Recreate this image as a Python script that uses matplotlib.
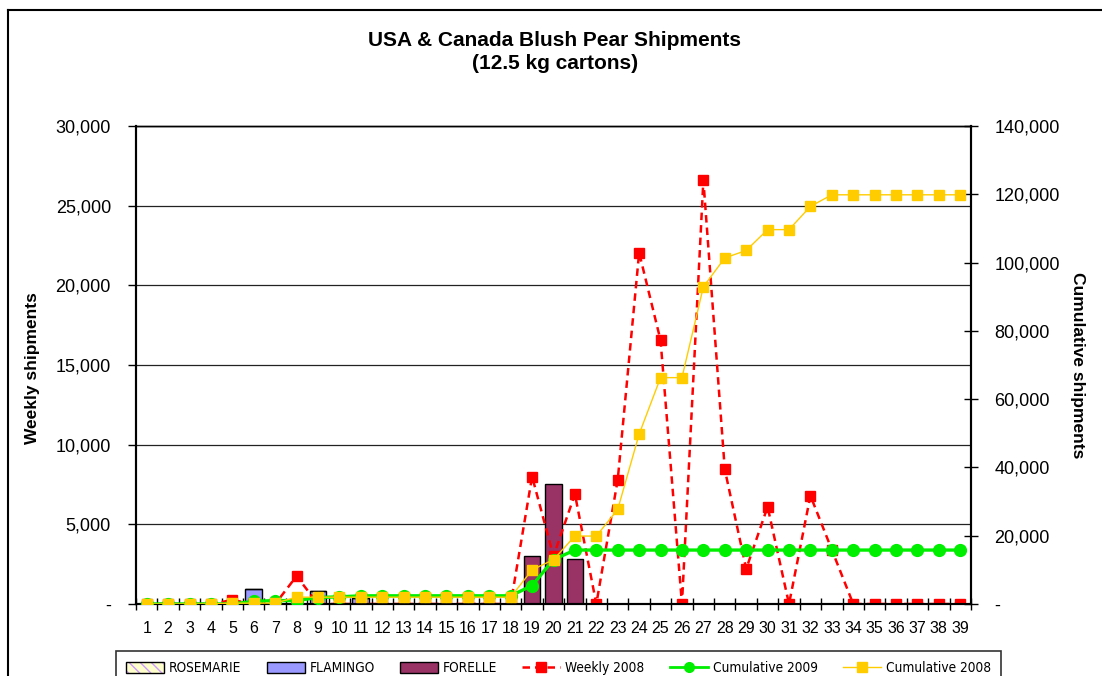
import matplotlib
matplotlib.use("Agg")
import matplotlib.pyplot as plt
from matplotlib.ticker import FuncFormatter, FixedLocator
from matplotlib.patches import Rectangle
from matplotlib.lines import Line2D
from matplotlib import font_manager
import numpy as np

plt.rcParams['font.family'] = ['Liberation Sans', 'DejaVu Sans']

weeks = list(range(1, 40))
week_labels = [str(w) for w in weeks]

rosemarie = [0] * 39
flamingo = [0, 0, 0, 0, 0, 950, 0, 0, 800, 0, 400, 0, 0, 0, 0, 0, 0, 0, 0, 0,
            0, 0, 0, 0, 0, 0, 0, 0, 0, 0, 0, 0, 0, 0, 0, 0, 0, 0, 0]
forelle = [0, 0, 0, 0, 0, 0, 0, 0, 0, 0, 0, 0, 0, 0, 0, 0, 0, 0, 3000, 7550,
           2820, 0, 0, 0, 0, 0, 0, 0, 0, 0, 0, 0, 0, 0, 0, 0, 0, 0, 0]
weekly_2008 = [0, 0, 0, 0, 250, 0, 0, 1750, 0, 0, 0, 0, 0, 0, 0, 0, 0, 0, 8000, 3000,
               6900, 0, 7800, 22050, 16550, 0, 26600, 8450, 2200, 6100, 0, 6800, 3400,
               0, 0, 0, 0, 0, 0]
cumulative_2009 = [0, 0, 0, 0, 0, 800, 1000, 1000, 1900, 2100, 2400, 2400, 2400, 2400,
                   2400, 2400, 2400, 2400, 5400, 13000, 15800, 15800, 15800, 15800,
                   15800, 15800, 15800, 15800, 15800, 15800, 15800, 15800, 15800, 15800,
                   15800, 15800, 15800, 15800, 15800]
cumulative_2008 = [0, 0, 0, 0, 250, 250, 250, 2000, 2000, 2000, 2000, 2000, 2000, 2000,
                   2000, 2000, 2000, 2000, 10000, 13000, 19900, 19900, 27700, 49750,
                   66300, 66300, 92900, 101350, 103550, 109650, 109650, 116450, 119850,
                   119850, 119850, 119850, 119850, 119850, 119850]

W, H = 1102, 676
fig = plt.figure(figsize=(W / 100, H / 100), dpi=100)
ax = fig.add_axes([136 / W, 1 - 604 / H, (971 - 136) / W, (604 - 126) / H])
ax2 = ax.twinx()

x = np.array(weeks)
bw = 0.78
ax.bar(x, rosemarie, width=bw, color='#FFFFCC', edgecolor='#CC99FF', hatch='\\\\\\', linewidth=0, zorder=2)
ax.bar(x, flamingo, width=bw, color='#9999FF', edgecolor='black', linewidth=1, zorder=2)
ax.bar(x, forelle, width=bw, bottom=np.array(flamingo), color='#993366', edgecolor='black', linewidth=1, zorder=2)
ax.plot(x, weekly_2008, color='#FF0000', linestyle=(0, (3, 2)), linewidth=1.8,
        marker='s', markersize=7, markerfacecolor='#FF0000', markeredgecolor='#FF0000', zorder=3)

ax2.plot(x, cumulative_2009, color='#00EE00', linewidth=2.4, marker='o', markersize=8.5,
         markerfacecolor='#00EE00', markeredgecolor='#00EE00', zorder=3)
ax2.plot(x, cumulative_2008, color='#FFCC00', linewidth=1, marker='s', markersize=7,
         markerfacecolor='#FFCC00', markeredgecolor='#FFCC00', zorder=4)

ax.set_xlim(0.5, 39.5)
ax.set_ylim(0, 30000)
ax2.set_ylim(0, 140000)
ax.set_yticks(np.arange(0, 30001, 5000))
ax2.set_yticks(np.arange(0, 140001, 20000))

fmt = FuncFormatter(lambda v, p: '-' if v == 0 else f'{v:,.0f}')
ax.yaxis.set_major_formatter(fmt)
ax2.yaxis.set_major_formatter(fmt)

ax.yaxis.grid(True, color='#222222', linewidth=0.9)
ax.set_axisbelow(True)

ax.set_xticks(x)
ax.set_xticklabels(week_labels)
ax.xaxis.set_minor_locator(FixedLocator(np.arange(0.5, 40, 1)))
ax.tick_params(axis='x', which='major', length=0, pad=12, labelsize=11.5)
ax.tick_params(axis='x', which='minor', length=8, direction='inout', width=1)
ax.tick_params(axis='y', which='major', length=6, direction='out', width=1, pad=12, labelsize=13)
ax2.tick_params(axis='y', which='major', length=10, direction='inout', width=1, pad=12, labelsize=13)

for a in (ax, ax2):
    for s in a.spines.values():
        s.set_color('black')
    a.spines['left'].set_linewidth(1.5)
    a.spines['right'].set_linewidth(1.5)
    a.spines['bottom'].set_linewidth(1.5)
    a.spines['top'].set_linewidth(1.0)

fig.text(555 / W, 1 - 40 / H, 'USA & Canada Blush Pear Shipments', ha='center', va='center',
         fontsize=15, fontweight='bold')
fig.text(555 / W, 1 - 63.5 / H, '(12.5 kg cartons)', ha='center', va='center',
         fontsize=15, fontweight='bold')
fig.text(33 / W, 1 - 368 / H, 'Weekly shipments', rotation=90, ha='center', va='center',
         fontsize=12.5, fontweight='bold')
fig.text(1078 / W, 1 - 365 / H, 'Cumulative shipments', rotation=270, ha='center', va='center',
         fontsize=12.5, fontweight='bold')

# outer chart frame (left and top)
fig.add_artist(Line2D([8 / W, 8 / W], [0, 1 - 9.5 / H], color='black', linewidth=1.5, transform=fig.transFigure))
fig.add_artist(Line2D([8 / W, 1], [1 - 9.5 / H, 1 - 9.5 / H], color='black', linewidth=1.5, transform=fig.transFigure))

h_rose = (Rectangle((0, 0), 1, 1, facecolor='#FFFFCC', edgecolor='#CC99FF', hatch='\\\\\\', linewidth=0),
          Rectangle((0, 0), 1, 1, facecolor='none', edgecolor='black', linewidth=1))
h_flam = Rectangle((0, 0), 1, 1, facecolor='#9999FF', edgecolor='black', linewidth=1)
h_fore = Rectangle((0, 0), 1, 1, facecolor='#993366', edgecolor='black', linewidth=1)
h_w08 = Line2D([], [], color='#FF0000', linestyle=(0, (3, 2)), linewidth=1.8, marker='s', markersize=6.5)
h_c09 = Line2D([], [], color='#00EE00', linewidth=2, marker='o', markersize=7)
h_c08 = Line2D([], [], color='#FFCC00', linewidth=1, marker='s', markersize=6.5)

leg_prop = font_manager.FontProperties(family=['Liberation Sans Narrow', 'DejaVu Sans'],
                                       stretch='condensed', size=9.8)

leg = fig.legend([h_rose, h_flam, h_fore, h_w08, h_c09, h_c08],
                 ['ROSEMARIE', 'FLAMINGO', 'FORELLE', 'Weekly 2008', 'Cumulative 2009', 'Cumulative 2008'],
                 loc='upper left', bbox_to_anchor=(116 / W, 1 - 651 / H), ncol=6,
                 frameon=True, fancybox=False, shadow=False, edgecolor='black',
                 prop=leg_prop,
                 handlelength=2.8, handleheight=0.8, columnspacing=1.85, handletextpad=0.35,
                 borderpad=0.75, borderaxespad=0)
leg.get_frame().set_linewidth(1.2)

fig.savefig('out.png', dpi=100)
